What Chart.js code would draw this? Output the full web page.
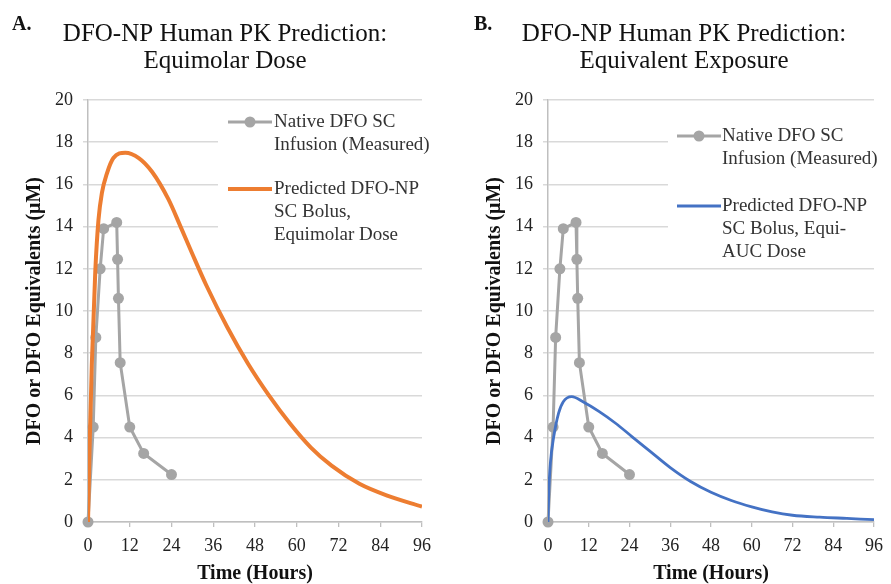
<!DOCTYPE html>
<html>
<head>
<meta charset="utf-8">
<script src="https://cdn.jsdelivr.net/npm/chart.js@4.4.1/dist/chart.umd.min.js"></script>
<style>
  html, body { margin: 0; padding: 0; background: #fff; }
  body { width: 891px; height: 584px; position: relative; overflow: hidden; }
  canvas { position: absolute; top: 0; }
  #chartA { left: 0; }
  #chartB { left: 460px; }
</style>
</head>
<body>
<canvas id="chartA" width="445" height="584"></canvas>
<canvas id="chartB" width="431" height="584"></canvas>
<script>
  // Eixos
  const timeTicks = [0, 12, 24, 36, 48, 60, 72, 84, 96];
  const concTicks = [0, 2, 4, 6, 8, 10, 12, 14, 16, 18, 20];

  // DFO nativo, infusão SC (medido)
  const nativeTimes = [0, 1.5, 2.25, 3.5, 4.5, 8.25, 8.5, 8.75, 9.25, 12, 16, 24];
  const nativeConc = [0, 4.5, 8.75, 12, 13.9, 14.2, 12.45, 10.6, 7.55, 4.5, 3.25, 2.25];
  const nativeLabel = ['Native DFO SC', 'Infusion (Measured)'];

  // DFO-NP previsto, dose equimolar
  const equimolarTimes = [0, 0.5, 1.1, 2.1, 3, 4, 5.4, 7.3, 10.7, 14.6, 18.4, 23.1, 26.6, 30, 34,
    40, 46, 52, 58, 64, 70, 78, 86, 96];
  const equimolarConc = [0, 3.8, 7.5, 11.9, 14.3, 15.6, 16.5, 17.25, 17.5, 17.25, 16.6, 15.3, 14, 12.7, 11.22,
    9.24, 7.5, 6.0, 4.68, 3.54, 2.67, 1.81, 1.25, 0.73];
  const equimolarLabel = ['Predicted DFO-NP', 'SC Bolus,', 'Equimolar Dose'];

  // DFO-NP previsto, dose equi-AUC
  const equiAucTimes = [0, 0.25, 0.7, 1.7, 3.1, 4.5, 7, 10.3, 15.1, 19.9, 24.7, 30, 36, 42, 48,
    54, 60, 66, 72, 80, 88, 96];
  const equiAucConc = [0, 1.5, 2.8, 4.05, 5.15, 5.7, 5.94, 5.7, 5.23, 4.68, 4.05, 3.36, 2.58, 1.92, 1.41,
    1.02, 0.72, 0.48, 0.32, 0.23, 0.17, 0.11];
  const equiAucLabel = ['Predicted DFO-NP', 'SC Bolus, Equi-', 'AUC Dose'];

  const serif = '"Liberation Serif", "Times New Roman", serif';
  Chart.defaults.font.family = serif;

  function toPoints(xs, ys) {
    return xs.map((x, i) => ({ x: x, y: ys[i] }));
  }

  function nativeDataset() {
    return {
      label: nativeLabel.join(' '),
      legendLines: nativeLabel,
      data: toPoints(nativeTimes, nativeConc),
      borderColor: '#a5a5a5',
      backgroundColor: '#a5a5a5',
      borderWidth: 3,
      pointRadius: 5.5,
      pointBorderWidth: 0,
      tension: 0,
      clip: false,
      order: 2
    };
  }

  function predictedDataset(lines, xs, ys, color, width) {
    return {
      label: lines.join(' '),
      legendLines: lines,
      data: toPoints(xs, ys),
      borderColor: color,
      backgroundColor: color,
      borderWidth: width,
      pointRadius: 0,
      tension: 0.4,
      cubicInterpolationMode: 'monotone',
      order: 1
    };
  }

  // legenda desenhada à mão (rótulos em várias linhas)
  const pkLegend = {
    id: 'pkLegend',
    afterDatasetsDraw(chart, args, opts) {
      const ctx = chart.ctx;
      ctx.save();
      ctx.fillStyle = '#fff';
      ctx.fillRect(opts.box[0], opts.box[1], opts.box[2], opts.box[3]);
      ctx.font = '19px ' + serif;
      ctx.textBaseline = 'middle';
      ctx.textAlign = 'left';
      chart.data.datasets.forEach((ds, i) => {
        const y = opts.rows[i];
        ctx.strokeStyle = ds.borderColor;
        ctx.lineWidth = ds.borderWidth;
        ctx.beginPath();
        ctx.moveTo(opts.lineX, y);
        ctx.lineTo(opts.lineX + 44, y);
        ctx.stroke();
        if (ds.pointRadius > 0) {
          ctx.fillStyle = ds.backgroundColor;
          ctx.beginPath();
          ctx.arc(opts.lineX + 22, y, ds.pointRadius, 0, Math.PI * 2);
          ctx.fill();
        }
        ctx.fillStyle = '#333';
        ds.legendLines.forEach((line, j) => ctx.fillText(line, opts.textX, y + j * 23));
      });
      ctx.restore();
    }
  };

  const panelTitle = {
    id: 'panelTitle',
    afterDraw(chart, args, opts) {
      const ctx = chart.ctx;
      ctx.save();
      ctx.fillStyle = '#111';
      ctx.textBaseline = 'alphabetic';
      ctx.textAlign = 'left';
      ctx.font = 'bold 20px ' + serif;
      ctx.fillText(opts.letter, opts.letterX, 30);
      ctx.textAlign = 'center';
      ctx.font = '25px ' + serif;
      opts.lines.forEach((line, i) => ctx.fillText(line, opts.cx, 40.5 + i * 27));
      ctx.restore();
    }
  };

  function makeConfig(datasets, rightPad, titleOpts, legendOpts) {
    return {
      type: 'line',
      data: { datasets: datasets },
      plugins: [pkLegend, panelTitle],
      options: {
        responsive: false,
        animation: false,
        layout: { padding: { left: 25, top: 100, right: rightPad, bottom: 0 } },
        plugins: {
          legend: { display: false },
          tooltip: { enabled: false },
          panelTitle: titleOpts,
          pkLegend: legendOpts
        },
        scales: {
          x: {
            type: 'linear',
            min: 0,
            max: 96,
            afterBuildTicks: s => { s.ticks = timeTicks.map(v => ({ value: v })); },
            afterFit: s => { s.height = 62; },
            grid: { drawOnChartArea: false, drawTicks: true, tickLength: 5, color: '#bfbfbf', lineWidth: 1.3 },
            border: { color: '#bfbfbf', width: 1.5 },
            ticks: { padding: 8, maxRotation: 0, color: '#222', font: { size: 18 } },
            title: {
              display: true,
              text: 'Time (Hours)',
              color: '#111',
              font: { size: 20, weight: 'bold', lineHeight: 1 },
              padding: { top: 0, bottom: 0 }
            }
          },
          y: {
            type: 'linear',
            min: 0,
            max: 20,
            afterBuildTicks: s => { s.ticks = concTicks.map(v => ({ value: v })); },
            afterFit: s => { s.width = 63; },
            grid: { color: '#d9d9d9', lineWidth: 1.5, tickLength: 5 },
            border: { color: '#bfbfbf', width: 1.5 },
            ticks: { padding: 10, color: '#222', font: { size: 18 } },
            title: {
              display: true,
              text: 'DFO or DFO Equivalents (μM)',
              color: '#111',
              font: { size: 20, weight: 'bold', lineHeight: 1 },
              padding: { top: 0, bottom: 0 }
            }
          }
        }
      }
    };
  }

  const chartA = new Chart(document.getElementById('chartA'), makeConfig(
    [nativeDataset(), predictedDataset(equimolarLabel, equimolarTimes, equimolarConc, '#ed7d31', 4)],
    23,
    { letter: 'A.', letterX: 12, cx: 225, lines: ['DFO-NP Human PK Prediction:', 'Equimolar Dose'] },
    { box: [218, 104, 226, 144], lineX: 228, textX: 274, rows: [122, 189] }
  ));

  const chartB = new Chart(document.getElementById('chartB'), makeConfig(
    [nativeDataset(), predictedDataset(equiAucLabel, equiAucTimes, equiAucConc, '#4472c4', 2.8)],
    10,
    { letter: 'B.', letterX: 14, cx: 224, lines: ['DFO-NP Human PK Prediction:', 'Equivalent Exposure'] },
    { box: [208, 114, 222, 152], lineX: 217, textX: 262, rows: [136, 206] }
  ));
</script>
</body>
</html>
